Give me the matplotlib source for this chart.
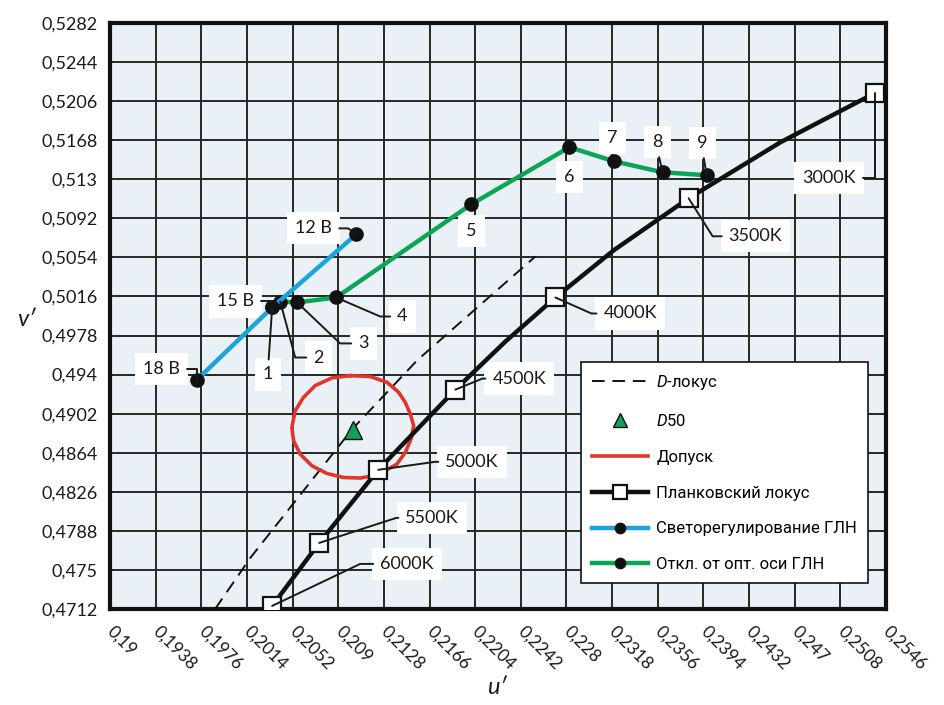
import math
import matplotlib
matplotlib.use("Agg")
import matplotlib.pyplot as plt
from matplotlib import font_manager as fm


def has_font(name):
    try:
        fm.findfont(name, fallback_to_default=False)
        return True
    except ValueError:
        return False


LABEL_FONT = ["Lato", "Open Sans", "DejaVu Sans"]
LEGEND_FONT = "Roboto" if has_font("Roboto") else "Liberation Sans"

plt.rcParams["mathtext.fontset"] = "custom"
plt.rcParams["mathtext.it"] = LEGEND_FONT + ":italic"
plt.rcParams["mathtext.rm"] = LEGEND_FONT

# ---------------------------------------------------------------- data
x_tick_labels = ["0,19", "0,1938", "0,1976", "0,2014", "0,2052", "0,209", "0,2128",
                 "0,2166", "0,2204", "0,2242", "0,228", "0,2318", "0,2356", "0,2394",
                 "0,2432", "0,247", "0,2508", "0,2546"]
y_tick_labels = ["0,4712", "0,475", "0,4788", "0,4826", "0,4864", "0,4902", "0,494",
                 "0,4978", "0,5016", "0,5054", "0,5092", "0,513", "0,5168", "0,5206",
                 "0,5244", "0,5282"]

# Planckian locus (u', v'); labelled temperatures carry square markers
planck_u = [0.2035, 0.20742, 0.21233, 0.21875, 0.22292, 0.22708, 0.23192, 0.23817,
            0.24583, 0.25367, 0.2555]
planck_v = [0.4715, 0.47763, 0.48474, 0.49254, 0.49722, 0.5015, 0.50608, 0.51115,
            0.51661, 0.52138, 0.5223]
planck_labels = ["6000K", "5500K", "5000K", "4500K", None, "4000K", None, "3500K",
                 None, "3000K", None]

# Daylight locus
dlocus_u = [0.19875, 0.2017, 0.21017, 0.21558, 0.22542]
dlocus_v = [0.4712, 0.4762, 0.4887, 0.4954, 0.5055]

# D50 white point
d50_u = 0.2102
d50_v = 0.4886

# Tolerance contour
tol_u = [0.21000, 0.21167, 0.21306, 0.21403, 0.21458, 0.21500, 0.21528, 0.21506,
         0.21458, 0.21389, 0.21292, 0.21194, 0.21083, 0.20944, 0.20806, 0.20681,
         0.20583, 0.20528, 0.20514, 0.20542, 0.20611, 0.20708, 0.20848, 0.21000]
tol_v = [0.49390, 0.49381, 0.49325, 0.49228, 0.49130, 0.49017, 0.48903, 0.48774,
         0.48643, 0.48530, 0.48465, 0.48416, 0.48394, 0.48399, 0.48438, 0.48513,
         0.48627, 0.48757, 0.48887, 0.49049, 0.49179, 0.49293, 0.49368, 0.49390]

# Dimming of the halogen lamp (supply voltage)
dim_u = [0.19725, 0.2035, 0.2105]
dim_v = [0.49351, 0.50053, 0.50764]
dim_labels = ["18 В", "15 В", "12 В"]

# Deviation from the optical axis of the halogen lamp, positions 1..9
dev_u = [0.2035, 0.20417, 0.20558, 0.20883, 0.22008, 0.22825, 0.23192, 0.236, 0.23967]
dev_v = [0.50053, 0.50111, 0.50102, 0.5015, 0.51057, 0.51612, 0.51476, 0.51368, 0.51339]
dev_labels = ["1", "2", "3", "4", "5", "6", "7", "8", "9"]

x_ticks = [float(s.replace(",", ".")) for s in x_tick_labels]
y_ticks = [float(s.replace(",", ".")) for s in y_tick_labels]

# ---------------------------------------------------------------- figure
W, H = 944, 705
fig = plt.figure(figsize=(W / 100, H / 100), dpi=100)
ax = fig.add_axes([110 / W, 1 - 609 / H, 776 / W, 586 / H])
ax.set_facecolor("#eaf1f6")
ax.set_xlim(x_ticks[0], x_ticks[-1])
ax.set_ylim(y_ticks[0], y_ticks[-1])

ax.set_xticks(x_ticks)
ax.set_yticks(y_ticks)
ax.set_xticklabels(x_tick_labels, rotation=-45, ha="left", va="center",
                   rotation_mode="anchor", family=LABEL_FONT, fontsize=12.5,
                   color="#1a1a1a")
ax.set_yticklabels(y_tick_labels, family=LABEL_FONT, fontsize=13, color="#1a1a1a")
ax.tick_params(axis="both", length=0)
ax.tick_params(axis="y", pad=9)
ax.tick_params(axis="x", pad=14)
ax.set_axisbelow(True)
ax.grid(True, color="#262626", lw=1.4)
for sp in ax.spines.values():
    sp.set_linewidth(3)
    sp.set_color("#111111")

# daylight locus
ax.plot(dlocus_u, dlocus_v, ls=(0, (6.5, 4)), color="#111111", lw=1.4, zorder=3,
        label=r"$\mathit{D}$-локус")

# tolerance contour
ax.plot(tol_u, tol_v, color="#e0352b", lw=2.6, zorder=3, label="Допуск")

# D50
ax.plot([d50_u], [d50_v], ls="none", marker="^", ms=13, mfc="#14a05a", mec="#111111",
        mew=1.0, zorder=4, label=r"$\mathit{D}$50")

# Planckian locus
marked = [i for i, t in enumerate(planck_labels) if t]
ax.plot(planck_u, planck_v, color="#111111", lw=3.2, marker="s", markevery=marked,
        ms=13, mfc="white", mec="#111111", mew=1.6, zorder=5,
        label="Планковский локус")

# halogen lamp: dimming and off-axis deviation
ax.plot(dev_u, dev_v, color="#0aa655", lw=3.2, marker="o", ms=9.5, mfc="#111111",
        mec="#111111", zorder=5, label="Откл. от опт. оси ГЛН")
ax.plot(dim_u, dim_v, color="#1ba4dc", lw=3.2, marker="o", ms=9.5, mfc="#111111",
        mec="#111111", zorder=5, label="Светорегулирование ГЛН")

# ---------------------------------------------------------------- callouts
def callout(xy, text, dx, dy, mode, h=0, ha="left", va="center"):
    """Label at a pixel offset from a point, joined by a leader line."""
    relpos = {"left": (0, 0.5), "right": (1, 0.5)}.get(ha, (0.5, 0.5))
    if ha == "center":
        relpos = (0.5, 1) if dy < 0 else (0.5, 0)
    common = dict(xy=xy, xytext=(dx, dy), textcoords="offset pixels", ha=ha, va=va,
                  fontsize=13, family=LABEL_FONT)
    # white patch that hides the grid behind the label
    ax.annotate(text, color="none", zorder=2.5,
                bbox=dict(boxstyle="square,pad=0.45", fc="white", ec="none"), **common)
    if mode == "none":
        ax.annotate(text, color="#1a1a1a", zorder=6, **common)
        return
    if mode == "elbow":
        ex = dx - h if ha == "left" else dx + h
        ang = math.degrees(math.atan2(dy, ex))
        cs = f"angle,angleA=0,angleB={ang:.2f},rad=0"
    elif mode == "vert":
        cs = "angle,angleA=0,angleB=90,rad=0"
    else:
        cs = "arc3,rad=0"
    ax.annotate(text, color="#1a1a1a", zorder=6,
                arrowprops=dict(arrowstyle="-", color="#1a1a1a", lw=1.4, shrinkA=3,
                                shrinkB=0, relpos=relpos, connectionstyle=cs),
                **common)


# Planckian locus temperatures
planck_callouts = {
    "6000K": (108, 42, "elbow", 20, "left"),
    "5500K": (86, 25, "elbow", 9, "left"),
    "5000K": (67, 8, "elbow", 10, "left"),
    "4500K": (37, 11, "elbow", 10, "left"),
    "4000K": (48, -16, "elbow", 12, "left"),
    "3500K": (40, -38, "elbow", 16, "left"),
    "3000K": (-19, -85, "vert", 0, "right"),
}
for u, v, t in zip(planck_u, planck_v, planck_labels):
    if t:
        dx, dy, mode, h, ha = planck_callouts[t]
        callout((u, v), t, dx, dy, mode, h, ha)

# supply voltages
dim_callouts = {
    "18 В": (-17, 11, "vert", 0, "right"),
    "15 В": (-18, 6, "vert", 0, "right"),
    "12 В": (-24, 6, "elbow", 16, "right"),
}
for u, v, t in zip(dim_u, dim_v, dim_labels):
    dx, dy, mode, h, ha = dim_callouts[t]
    callout((u, v), t, dx, dy, mode, h, ha)

# positions along the optical axis
dev_callouts = {
    "1": (-4, -67, "line", 0, "center"),
    "2": (33, -56, "elbow", 18, "left"),
    "3": (61, -41, "elbow", 18, "left"),
    "4": (61, -19, "elbow", 17, "left"),
    "5": (0, -27, "none", 0, "center"),
    "6": (0, -30, "none", 0, "center"),
    "7": (-1, 23, "none", 0, "center"),
    "8": (-5, 30, "line", 0, "center"),
    "9": (-4, 32, "line", 0, "center"),
}
for u, v, t in zip(dev_u, dev_v, dev_labels):
    dx, dy, mode, h, ha = dev_callouts[t]
    callout((u, v), t, dx, dy, mode, h, ha)

# ---------------------------------------------------------------- axis titles
fig.text(26 / W, 1 - 320 / H, "v′", family=LABEL_FONT, style="italic", fontsize=17,
         ha="center", va="center", color="#1a1a1a")
fig.text(497 / W, 1 - 688 / H, "u′", family=LABEL_FONT, style="italic", fontsize=17,
         ha="center", va="center", color="#1a1a1a")

# ---------------------------------------------------------------- legend
handles, labels = ax.get_legend_handles_labels()
order = [r"$\mathit{D}$-локус", r"$\mathit{D}$50", "Допуск", "Планковский локус",
         "Светорегулирование ГЛН", "Откл. от опт. оси ГЛН"]
hmap = dict(zip(labels, handles))
leg = ax.legend([hmap[k] for k in order], order, loc="lower right",
                bbox_to_anchor=((868 - 110) / 776, (609 - 583) / 586),
                borderaxespad=0, frameon=True, fancybox=False, framealpha=1,
                edgecolor="#111111", facecolor="white",
                prop={"family": LEGEND_FONT, "size": 12},
                handlelength=3.35, handletextpad=0.5, labelspacing=1.25,
                borderpad=0.65, numpoints=1, markerscale=0.78)
leg.get_frame().set_linewidth(1.2)
leg.set_zorder(10)

fig.savefig("out.png", dpi=100)
